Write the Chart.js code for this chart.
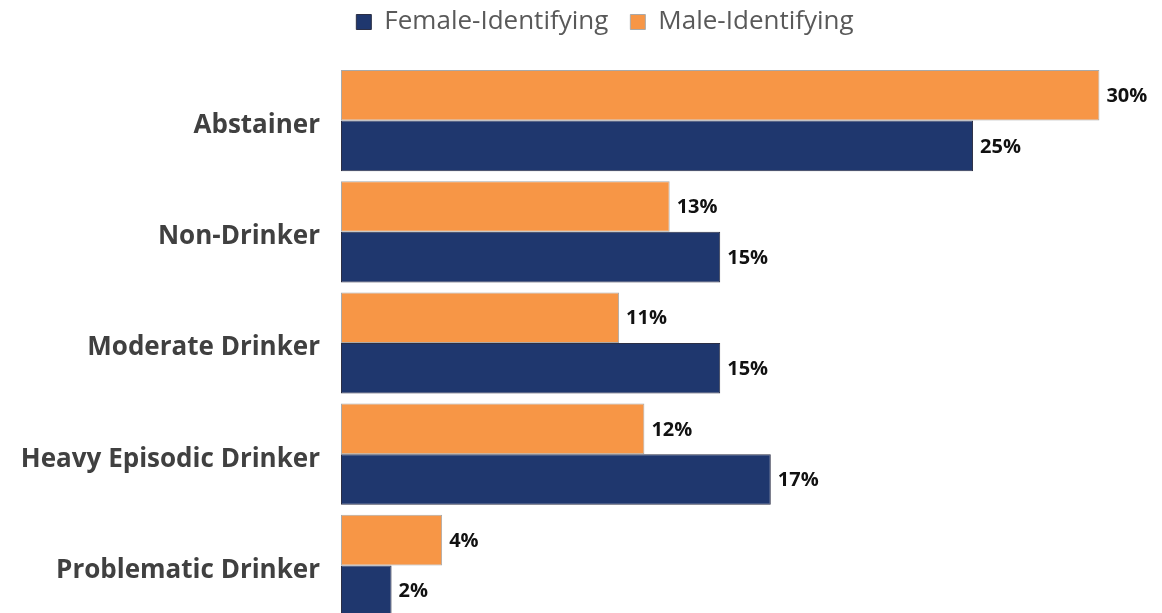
<!DOCTYPE html>
<html>
<head>
<meta charset="utf-8">
<script src="https://cdn.jsdelivr.net/npm/chart.js@4.4.1/dist/chart.umd.min.js"></script>
<style>
    html, body { margin: 0; padding: 0; background: #fff; overflow: hidden; }
    #wrap { width: 1162px; height: 621px; position: relative; }
</style>
</head>
<body>
<div id="wrap"><canvas id="drinking-chart" width="1162" height="621"></canvas></div>
<script>
const categories = ['Abstainer', 'Non-Drinker', 'Moderate Drinker', 'Heavy Episodic Drinker', 'Problematic Drinker'];
const maleValues = [30, 13, 11, 12, 4];
const femaleValues = [25, 15, 15, 17, 2];

// legend sits a bit right of centre and leaves room above the bars
const legendTweak = {
    id: 'legendTweak',
    beforeInit(chart) {
        const legend = chart.legend;
        const origFit = legend.fit;
        legend.fit = function () {
            origFit.bind(legend)();
            this.height = 65;
        };
        const origDraw = legend.draw;
        legend.draw = function () {
            const ctx = chart.ctx;
            ctx.save();
            ctx.translate(30, -13);
            origDraw.apply(legend, arguments);
            ctx.restore();
        };
    }
};

const valueLabels = {
    id: 'valueLabels',
    afterDatasetsDraw(chart) {
        const ctx = chart.ctx;
        ctx.save();
        ctx.font = 'bold 20px "Open Sans"';
        ctx.fillStyle = '#111';
        ctx.textBaseline = 'middle';
        ctx.textAlign = 'left';
        chart.data.datasets.forEach((ds, i) => {
            const meta = chart.getDatasetMeta(i);
            meta.data.forEach((bar, j) => {
                ctx.fillText(ds.data[j] + '%', bar.x + 7, bar.y + 1);
            });
        });
        ctx.restore();
    }
};

const ctx = document.getElementById('drinking-chart').getContext('2d');
new Chart(ctx, {
    type: 'bar',
    data: {
        labels: categories,
        datasets: [
            {
                label: 'Male-Identifying',
                data: maleValues,
                backgroundColor: '#F79646',
                borderColor: '#a9a9a9',
                borderWidth: 1,
                borderSkipped: false
            },
            {
                label: 'Female-Identifying',
                data: femaleValues,
                backgroundColor: '#1F376E',
                borderColor: '#2c2f45',
                borderWidth: 1,
                borderSkipped: false
            }
        ]
    },
    options: {
        indexAxis: 'y',
        responsive: false,
        animation: false,
        devicePixelRatio: 1,
        categoryPercentage: 0.91,
        barPercentage: 1.0,
        layout: { padding: { left: 0, right: 12, top: 0, bottom: 0 } },
        scales: {
            x: {
                display: false,
                min: 0,
                max: 32
            },
            y: {
                grid: { display: false, drawTicks: false },
                border: { display: false },
                ticks: {
                    padding: 21,
                    labelOffset: 5,
                    color: '#404040',
                    font: { family: '"Open Sans"', size: 26, weight: 'bold' }
                },
                afterFit(scale) {
                    scale.width = 341;
                    // the last category runs off the bottom edge in the original
                    scale.paddingTop = 0;
                    scale.paddingBottom = 0;
                }
            }
        },
        plugins: {
            legend: {
                position: 'top',
                reverse: true,
                labels: {
                    boxWidth: 15,
                    boxHeight: 15,
                    padding: 22,
                    color: '#595959',
                    font: { family: '"Open Sans"', size: 26 }
                }
            },
            tooltip: { enabled: false }
        }
    },
    plugins: [legendTweak, valueLabels]
});
</script>
</body>
</html>
